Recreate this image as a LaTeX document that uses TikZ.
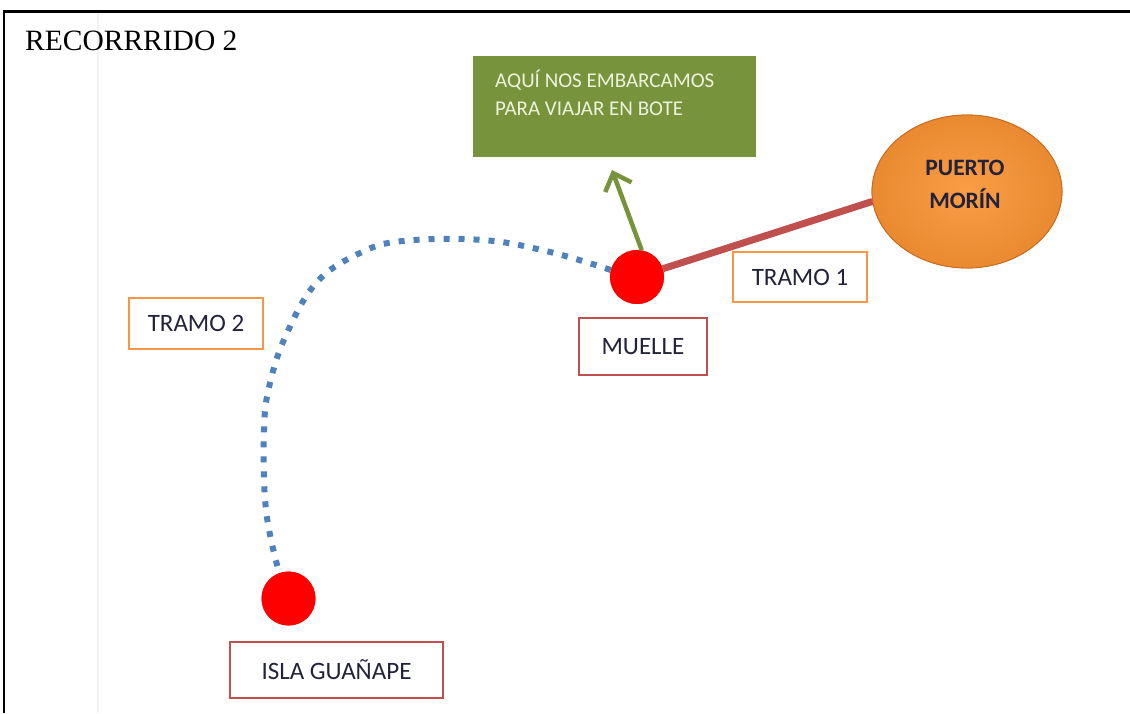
\documentclass[tikz,border=0pt]{standalone}
\usepackage{fontspec}
\setmainfont{Liberation Serif}
\newfontfamily\calfont{Carlito}
\usetikzlibrary{arrows.meta,shapes.geometric}
\definecolor{cgreen}{HTML}{77933C}
\definecolor{cred}{HTML}{C0504D}
\definecolor{corange}{HTML}{F79646}
\definecolor{cdorange}{HTML}{E98A30}
\definecolor{clorange}{HTML}{FA9D45}
\definecolor{crim}{HTML}{C8691E}
\definecolor{cblue}{HTML}{4F81BD}
\definecolor{ctxt}{HTML}{22223A}
\definecolor{cgtxt}{HTML}{EEF3DC}
\definecolor{cfaint}{HTML}{F3F3F3}
\begin{document}
\begin{tikzpicture}[x=1pt,y=-1pt,
  lblbox/.style={draw, line width=2pt, inner sep=0pt, text=ctxt,
    font=\calfont\fontsize{25}{29}\selectfont},
  orangebox/.style={lblbox, draw=corange},
  redbox/.style={lblbox, draw=cred},
  dot/.style={circle, fill=red, draw=none, minimum size=54pt, inner sep=0pt},
  pmshape/.style={ellipse, minimum width=190pt, minimum height=153pt, inner sep=0pt,
    draw=crim, line width=0.8pt, shading=radial, inner color=clorange, outer color=cdorange},
]
\useasboundingbox (0,0) rectangle (1130,713);
\fill[white] (0,0) rectangle (1130,713);
% faint column line
\draw[cfaint, line width=1.5pt] (98,13) -- (98,713);
% frame
\draw[black, line width=2.5pt] (4.2,713) -- (4.2,11.5) -- (1130,11.5);
% title
\node[anchor=base west, inner sep=0pt, font=\fontsize{29.5}{34}\selectfont] (title) at (25,50) {RECORRRIDO 2};

% green box
\node[fill=cgreen, draw=none, anchor=north west, minimum width=283pt, minimum height=101pt, inner sep=0pt] (gbox) at (473,55.5) {};
\node[anchor=base west, inner sep=0pt, align=left, text=cgtxt,
  font=\calfont\fontsize{21}{28}\selectfont] (gtext) at (495,115)
  {AQUÍ NOS EMBARCAMOS\\PARA VIAJAR EN BOTE};

% route end points
\node[dot] (muelle) at (637,277) {};
\node[dot] (isla) at (288.5,598.5) {};
\coordinate (tip) at (612,170);
\node[pmshape] (pm) at (967,191.5) {};

% red line TRAMO 1
\draw[cred, line width=7pt] (muelle) -- (pm.186);
% ellipse on top of the line end
\node[pmshape] (pm2) at (967,191.5) {};
\node[anchor=base, inner sep=0pt, align=center, text=ctxt,
  font=\calfont\bfseries\fontsize{23.5}{33}\selectfont] (pmtext) at (965,208)
  {PUERTO\\MORÍN};

% dotted route TRAMO 2
\draw[cblue, line width=6pt, line cap=butt, dash pattern=on 6pt off 9pt]
  plot[smooth, tension=0.65] coordinates {(muelle.165) (550,252) (483,240) (403,241) (360,253) (317,282) (287,333) (270,383) (264,430) (266,510) (isla.110)};
% circles over the route
\node[dot] (muelle2) at (637,277) {};
\node[dot] (isla2) at (288.5,598.5) {};

% green arrow
\draw[cgreen, line width=4.5pt, -{Straight Barb[length=15pt,width=28pt]}] (muelle.80) -- (tip);

% labels
\node[orangebox, minimum width=134pt, minimum height=50pt] (t1) at (800,277) {TRAMO 1};
\node[redbox, minimum width=128pt, minimum height=57pt] (mlbl) at (643,346.5) {MUELLE};
\node[orangebox, minimum width=134pt, minimum height=51pt] (t2) at (196,323.5) {TRAMO 2};
\node[redbox, minimum width=213pt, minimum height=56pt] (ilbl) at (336.5,670) {ISLA GUAÑAPE\hspace{20pt}};
\end{tikzpicture}
\end{document}
